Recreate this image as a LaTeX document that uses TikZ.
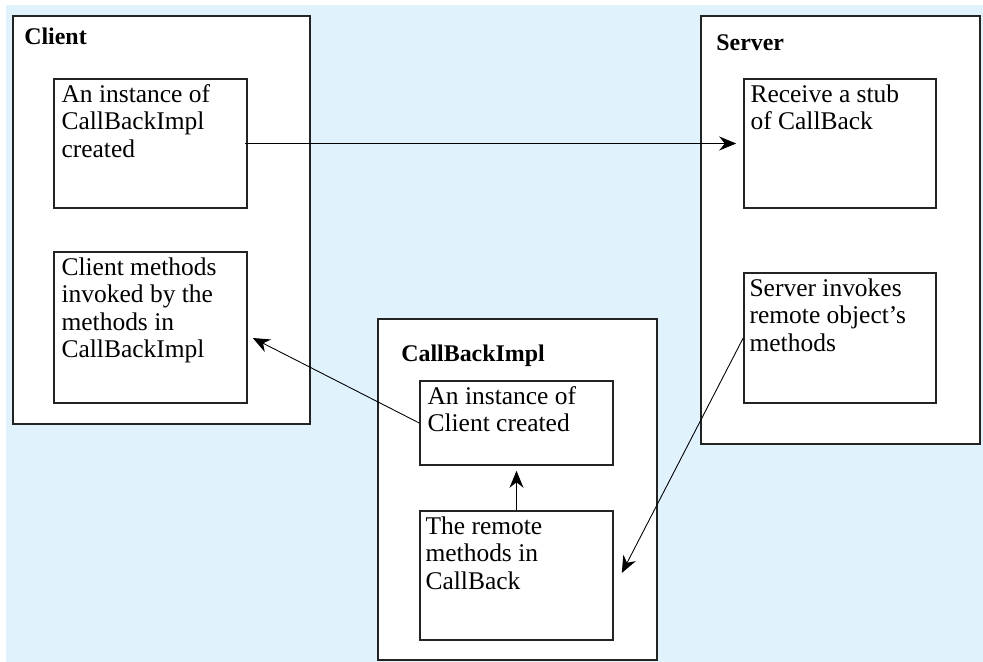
\documentclass[tikz,border=0pt]{standalone}
\usepackage{fontspec}
\setmainfont{Liberation Serif}
\usetikzlibrary{arrows.meta,positioning,calc}
\definecolor{sky}{RGB}{224,242,252}
\definecolor{ink}{RGB}{35,35,35}
\tikzset{outer/.style={draw=ink,fill=white,line width=0.9pt,inner sep=0pt},
  inbox/.style={draw=ink,fill=white,line width=0.9pt,inner sep=0pt},
  intext/.style={anchor=north west,inner sep=0pt,align=left,font=\fontsize{14.5pt}{15.6pt}\selectfont},
  title/.style={anchor=base west,inner sep=0pt,font=\fontsize{13.6pt}{15.6pt}\selectfont\bfseries},
  call/.style={-{Stealth[length=3.4mm,width=2.8mm]},line width=0.5pt,black}}
\begin{document}
\begin{tikzpicture}[x=0.02cm,y=-0.02cm]
\useasboundingbox (0,0) rectangle (983,662);
\fill[sky] (6,5) rectangle (983,662);
% client side
\node[outer,minimum width=297*0.02cm,minimum height=408*0.02cm] (client) at (161.5,220) {};
\node[title] (clientT) at (24,45) {Client};
\node[inbox,minimum width=193*0.02cm,minimum height=129*0.02cm] (cInst) at (150.5,143.5) {};
\node[intext] at ($(cInst.north west)+(8,6)$) {An instance of\\CallBackImpl\\created};
\node[inbox,minimum width=193*0.02cm,minimum height=151*0.02cm] (cMeth) at (150.5,327.5) {};
\node[intext] at ($(cMeth.north west)+(8,6)$) {Client methods\\invoked by the\\methods in\\CallBackImpl};
% server side
\node[outer,minimum width=279*0.02cm,minimum height=428*0.02cm] (server) at (840.5,230) {};
\node[title] (serverT) at (716,51) {Server};
\node[inbox,minimum width=192*0.02cm,minimum height=129*0.02cm] (sStub) at (840,143.5) {};
\node[intext] at ($(sStub.north west)+(7,6)$) {Receive a stub\\of CallBack};
\node[inbox,minimum width=192*0.02cm,minimum height=130*0.02cm] (sInv) at (840,338) {};
\node[intext] at ($(sInv.north west)+(6,6)$) {Server invokes\\remote object's\\methods};
% the callback object
\node[outer,minimum width=279*0.02cm,minimum height=341*0.02cm] (impl) at (517.5,489.5) {};
\node[title] (implT) at (401,361) {CallBackImpl};
\node[inbox,minimum width=193*0.02cm,minimum height=84*0.02cm] (kInst) at (516.5,423) {};
\node[intext] at ($(kInst.north west)+(8,6)$) {An instance of\\Client created};
\node[inbox,minimum width=193*0.02cm,minimum height=129*0.02cm] (kRem) at (516.5,575.5) {};
\node[intext] at ($(kRem.north west)+(6,6)$) {The remote\\methods in\\CallBack};
% calls
\draw[call,shorten >=0.14cm] ([xshift=-0.06cm]cInst.east) -- (sStub.west);
\draw[call] (kInst.west) -- ($(cMeth.east)+(5,10.5)$);
\draw[call,shorten >=0.1cm] (kRem.north) -- (kInst.south);
\draw[call] (sInv.west) -- ($(kRem.east)+(8,-2.5)$);
\end{tikzpicture}
\end{document}
